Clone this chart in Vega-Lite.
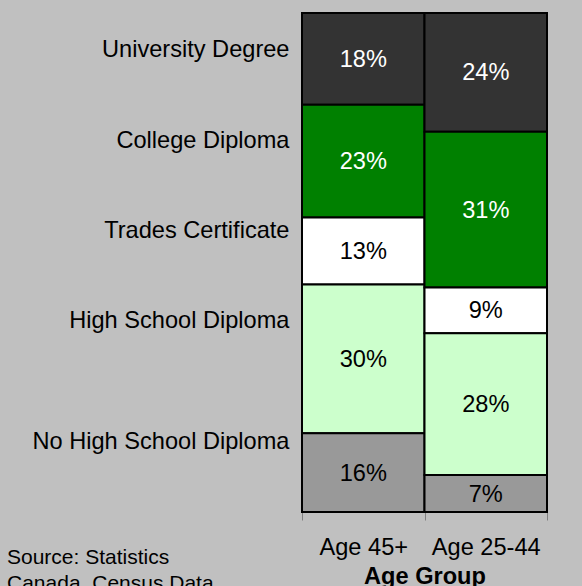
{
  "$schema": "https://vega.github.io/schema/vega-lite/v6.json",
  "autosize": "none",
  "width": 245,
  "height": 499,
  "padding": {"left": 302, "top": 13, "right": 35, "bottom": 74},
  "background": "#c0c0c0",
  "config": {"view": {"stroke": null}, "font": "Liberation Sans"},
  "title": {
    "text": ["Source: Statistics", "Canada, Census Data"],
    "orient": "bottom",
    "anchor": "start",
    "frame": "group",
    "fontSize": 21,
    "fontWeight": "normal",
    "color": "black",
    "lineHeight": 26,
    "dx": -295,
    "dy": -45
  },
  "data": {
    "values": [
      {"age": "Age 45+", "level": "University Degree", "share": 0.184, "rank": 5},
      {"age": "Age 45+", "level": "College Diploma", "share": 0.226, "rank": 4},
      {"age": "Age 45+", "level": "Trades Certificate", "share": 0.134, "rank": 3},
      {"age": "Age 45+", "level": "High School Diploma", "share": 0.298, "rank": 2},
      {"age": "Age 45+", "level": "No High School Diploma", "share": 0.158, "rank": 1},
      {"age": "Age 25-44", "level": "University Degree", "share": 0.238, "rank": 5},
      {"age": "Age 25-44", "level": "College Diploma", "share": 0.312, "rank": 4},
      {"age": "Age 25-44", "level": "Trades Certificate", "share": 0.092, "rank": 3},
      {"age": "Age 25-44", "level": "High School Diploma", "share": 0.284, "rank": 2},
      {"age": "Age 25-44", "level": "No High School Diploma", "share": 0.074, "rank": 1}
    ]
  },
  "encoding": {
    "x": {
      "field": "age",
      "type": "nominal",
      "sort": ["Age 45+", "Age 25-44"],
      "scale": {"paddingInner": 0, "paddingOuter": 0},
      "title": "Age Group",
      "axis": {
        "tickBand": "extent",
        "domain": false,
        "labelAngle": 0,
        "labelFontSize": 23.6,
        "labelColor": "black",
        "labelPadding": 15,
        "tickSize": 8,
        "tickColor": "#808080",
        "titleFontSize": 23.6,
        "titleFontWeight": "bold",
        "titleColor": "black",
        "titlePadding": 6
      }
    },
    "y": {
      "field": "share",
      "type": "quantitative",
      "stack": "normalize",
      "scale": {"domain": [0, 1], "nice": false},
      "title": null,
      "axis": {
        "values": [0.1435, 0.3848, 0.5657, 0.746, 0.9285],
        "labelExpr": "datum.value > 0.9 ? 'University Degree' : datum.value > 0.7 ? 'College Diploma' : datum.value > 0.5 ? 'Trades Certificate' : datum.value > 0.3 ? 'High School Diploma' : 'No High School Diploma'",
        "ticks": false,
        "domain": false,
        "grid": false,
        "labelFontSize": 23.6,
        "labelColor": "black",
        "labelPadding": 13,
        "labelOffset": 1,
        "labelLimit": 400
      }
    },
    "order": {"field": "rank", "type": "quantitative"}
  },
  "layer": [
    {
      "mark": {"type": "bar", "stroke": "black", "strokeWidth": 2},
      "encoding": {
        "color": {
          "field": "level",
          "type": "nominal",
          "scale": {
            "domain": ["University Degree", "College Diploma", "Trades Certificate", "High School Diploma", "No High School Diploma"],
            "range": ["#333333", "#008000", "#ffffff", "#ccffcc", "#999999"]
          },
          "legend": null
        }
      }
    },
    {
      "mark": {"type": "text", "fontSize": 23.6, "dy": 1},
      "encoding": {
        "y": {"field": "share", "type": "quantitative", "stack": "normalize", "bandPosition": 0.5},
        "text": {"field": "share", "type": "quantitative", "format": ".0%"},
        "color": {
          "condition": {"test": "datum.level == 'University Degree' || datum.level == 'College Diploma'", "value": "white"},
          "value": "black"
        }
      }
    }
  ]
}
